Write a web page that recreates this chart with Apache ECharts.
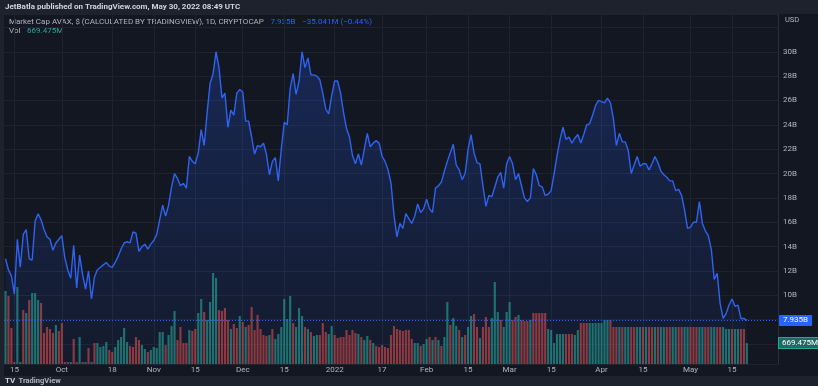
<!DOCTYPE html>
<html><head><meta charset="utf-8">
<script src="https://cdn.jsdelivr.net/npm/echarts@6/dist/echarts.min.js"></script>
<style>html,body{margin:0;padding:0;background:#131722;}#c{width:818px;height:386px;}</style>
</head><body><div id="c"></div>
<script>
// ---- categories (daily, Sep 12 2021 .. May 30 2022; last 10 days are right-side padding) ----
const startDate = [2021, 8, 12];
const totalDays = 261;

// ---- time-axis tick labels ----
const tickDates = ['2021-09-15','2021-10-01','2021-10-18','2021-11-01','2021-11-15','2021-12-01','2021-12-15','2022-01-01','2022-01-17','2022-02-01','2022-02-15','2022-03-01','2022-03-15','2022-04-01','2022-04-15','2022-05-01','2022-05-15'];
const tickTexts = ['15','Oct','18','Nov','15','Dec','15','2022','17','Feb','15','Mar','15','Apr','15','May','15'];

// ---- price-axis tick labels (billions USD) ----
const priceTicks = [10,12,14,16,18,20,22,24,26,28,30];

// ---- market cap, billions USD (daily) ----
const marketCap = [
13.0,12.1,11.6,10.1,14.6,12.3,15.0,15.4,13.0,12.9,
16.1,16.7,16.2,15.4,14.8,14.6,13.7,14.3,14.6,14.9,
13.1,12.1,11.4,14.1,10.6,13.3,11.7,10.5,12.0,9.7,
11.5,12.1,12.3,12.5,12.7,12.4,12.3,12.7,13.2,13.8,
14.3,14.4,14.3,15.2,15.1,13.6,14.0,14.2,13.8,14.2,
14.5,15.0,16.2,17.4,16.5,17.4,18.9,20.0,19.6,19.0,
19.2,18.8,21.4,21.0,20.8,21.7,23.6,22.3,25.0,27.4,
28.2,30.0,28.7,26.2,26.6,23.8,25.2,24.8,26.6,26.9,
26.7,24.3,24.3,23.0,21.6,22.3,22.2,22.5,21.6,19.9,
21.0,21.3,19.4,22.0,24.2,24.0,27.0,28.2,26.5,27.6,
30.0,28.7,29.5,28.1,28.1,28.0,27.7,26.6,25.3,24.9,
26.4,27.6,27.6,26.6,25.0,23.7,23.0,21.5,20.8,21.6,
20.7,22.0,23.3,22.2,22.5,22.7,22.5,21.4,21.0,20.3,
19.2,16.6,14.8,15.9,15.5,16.7,16.3,15.9,16.5,17.5,
16.8,17.1,17.9,17.1,16.8,18.8,19.0,19.3,20.2,21.0,
21.7,22.4,20.7,20.3,19.5,20.0,22.0,23.2,21.7,20.9,
20.8,19.0,17.3,18.2,18.1,18.9,19.7,20.1,18.8,20.8,
21.4,20.8,19.5,20.0,19.0,18.0,17.7,18.0,20.4,19.9,
19.0,18.9,18.2,18.3,18.6,20.0,21.5,22.8,23.8,22.8,
23.0,22.5,22.9,23.2,22.5,23.2,24.0,24.1,24.8,25.6,
26.0,25.9,25.8,26.2,25.8,24.5,22.3,23.3,22.6,22.6,
21.9,20.0,20.7,21.4,20.6,20.8,20.8,20.3,20.8,21.4,
20.9,20.2,19.9,19.7,19.4,19.4,18.6,18.7,18.2,17.0,
15.5,15.6,16.0,16.0,17.7,15.9,15.3,14.9,13.8,11.3,
11.8,9.3,8.1,8.5,9.2,9.7,9.1,9.2,8.1,8.1,7.94
];

// ---- volume, millions USD (daily) ----
const volume = [
2336,2176,1152,64,2464,64,1728,1632,2048,2272,
2272,2048,1952,992,1184,1120,992,1248,1056,1312,
64,64,64,800,64,864,64,64,512,64,
672,672,544,576,704,448,384,544,768,864,
1152,704,576,544,864,768,608,480,384,448,
544,512,1024,1024,608,928,1216,1696,768,1184,
672,672,1088,1056,1120,1632,2080,1664,1408,1984,
2912,2752,1728,1696,1792,1408,1120,1280,1152,1536,
1344,1184,1248,1824,1088,1568,1120,928,896,928,
1120,800,960,1184,2080,1440,2176,1312,1184,1792,
1536,1184,1120,1024,896,928,928,1312,1024,960,
1216,928,832,864,864,1088,928,1088,992,960,
864,768,896,768,672,576,544,608,544,512,
928,1216,1120,1088,1056,1088,1088,800,672,672,
576,640,800,864,768,864,768,576,864,1984,
1248,1472,1216,1088,864,928,1184,1536,1600,1184,
832,1184,1504,1184,1472,2624,1664,1408,1184,1664,
1984,1408,1504,1568,1408,1376,1376,1408,1632,1632,
1632,1632,1632,1120,1088,672,960,960,960,960,
960,960,928,1088,1312,1312,1312,1312,1312,1312,
1312,1312,1408,1408,1408,1184,1184,1184,1184,1184,
1184,1184,1184,1184,1184,1184,1184,1184,1184,1184,
1184,1184,1184,1184,1184,1184,1184,1184,1184,1184,
1184,1184,1184,1184,1184,1184,1184,1184,1184,1184,
1184,1184,1184,1120,1120,1120,1120,1120,1120,1120,669.475
];
// 1 = up bar (green), 0 = down bar (red)
const volumeUp = [
1,0,0,0,1,1,0,1,0,1,
1,1,0,0,0,0,0,1,0,0,
0,0,1,0,0,1,0,1,0,1,
0,1,1,1,1,0,0,1,1,1,
1,1,0,0,0,0,1,1,0,1,
1,1,1,1,0,1,1,1,0,0,
0,0,1,0,0,1,1,0,1,1,
1,1,0,0,0,0,1,0,0,1,
0,1,0,0,0,0,0,0,0,1,
0,1,1,1,1,1,1,0,1,1,
1,0,1,0,1,1,0,0,0,1,
1,0,0,0,0,0,0,0,0,1,
0,1,1,0,1,0,0,0,0,0,
0,0,0,0,0,0,0,0,1,1,
0,1,1,0,1,0,1,0,1,1,
0,1,1,0,1,0,1,1,0,0,
1,0,0,0,1,1,1,0,1,1,
1,0,0,1,0,0,0,1,0,0,
0,0,0,1,1,1,1,1,1,0,
0,0,1,1,0,0,0,1,1,1,
1,1,1,1,0,0,0,1,0,1,
1,0,0,1,1,0,1,0,0,1,
0,1,1,0,0,1,1,0,0,1,
1,0,0,0,1,1,0,0,1,1,
0,0,1,1,1,0,1,1,0,0,1
];

const headerText = 'JetBatla published on TradingView.com, May 30, 2022 08:49 UTC';
const legendName = 'Market Cap AVAX, $ (CALCULATED BY TRADINGVIEW), 1D, CRYPTOCAP';
const legendValue = '7.935B';
const legendChange = '\u221235.041M (\u22120.44%)';
const volLabel = '669.475M';

// ---- build ----
const dates = [];
const t0 = Date.UTC(startDate[0], startDate[1], startDate[2]);
for (let i = 0; i < totalDays; i++) dates.push(new Date(t0 + i * 86400000).toISOString().slice(0, 10));
const tickMap = {};
tickDates.forEach((d, i) => { tickMap[d] = tickTexts[i]; });
const isTick = (idx, val) => tickMap[val !== undefined ? val : dates[idx]] !== undefined;

const GREEN = 'rgba(38,166,154,0.62)';
const RED = 'rgba(239,83,80,0.55)';
const TXT = '#b2b5be';
const GRID = '#1f2330';
const FONT = 'Roboto, "Open Sans", sans-serif';
const lastPrice = marketCap[marketCap.length - 1];
const lastVol = volume[volume.length - 1];

const chart = echarts.init(document.getElementById('c'), null, { renderer: 'canvas' });
chart.setOption({
  backgroundColor: '#131722',
  animation: false,
  textStyle: { fontFamily: FONT },
  grid: { left: 4, right: 40, top: 14, bottom: 22 },
  xAxis: {
    type: 'category', data: dates, boundaryGap: true,
    axisLine: { show: false }, axisTick: { show: false },
    axisLabel: { interval: isTick, formatter: v => tickMap[v] || '', color: TXT, fontSize: 8, margin: 2, fontFamily: FONT },
    splitLine: { show: true, interval: isTick, alignWithLabel: true, lineStyle: { color: GRID, width: 1 } }
  },
  yAxis: [{
    type: 'value', position: 'right', min: 4.36, max: 33.1, splitNumber: 14, minInterval: 2, maxInterval: 2,
    axisLine: { show: true, lineStyle: { color: '#2a2e39' } }, axisTick: { show: false },
    axisLabel: {
      color: TXT, fontSize: 8, margin: 5, fontFamily: FONT,
      formatter: v => priceTicks.indexOf(Math.round(v * 1000) / 1000) >= 0 ? v + 'B' : ''
    },
    splitLine: { show: true, lineStyle: { color: GRID, width: 1 } }
  }, {
    type: 'value', min: 0, max: 11200, show: false, splitLine: { show: false }
  }],
  series: [{
    type: 'line', data: marketCap, yAxisIndex: 0, symbol: 'none', z: 2,
    lineStyle: { color: '#2f63f0', width: 1.4 },
    areaStyle: {
      origin: 'start',
      color: new echarts.graphic.LinearGradient(0, 0, 0, 1, [
        { offset: 0, color: 'rgba(41,98,255,0.32)' },
        { offset: 1, color: 'rgba(41,98,255,0.07)' }
      ])
    },
    markLine: {
      silent: true, symbol: 'none', animation: false,
      lineStyle: { type: [1, 2], color: '#2962ff', width: 1 },
      label: {
        show: true, position: 'end', distance: 1, formatter: legendValue,
        color: '#ffffff', backgroundColor: '#2962ff', padding: [2, 4, 1, 4], fontSize: 8, fontFamily: FONT, borderRadius: 1
      },
      data: [{ yAxis: lastPrice }]
    }
  }, {
    type: 'bar', yAxisIndex: 1, z: 3, barCategoryGap: '28%',
    data: volume.map((v, i) => ({ value: v, itemStyle: { color: volumeUp[i] ? GREEN : RED } })),
    markLine: {
      silent: true, symbol: 'none', animation: false,
      lineStyle: { color: 'rgba(0,0,0,0)', width: 0.5 },
      label: {
        show: true, position: 'end', distance: 1, formatter: volLabel,
        color: '#ffffff', backgroundColor: '#1e6b64', borderColor: '#26a69a', borderWidth: 1,
        padding: [1, 3, 1, 3], fontSize: 8, fontFamily: FONT
      },
      data: [{ yAxis: lastVol }]
    }
  }],
  graphic: [
    { type: 'rect', silent: true, z: -1, shape: { x: 0, y: 0, width: 818, height: 14 }, style: { fill: '#1e222d' } },
    { type: 'rect', silent: true, z: -1, shape: { x: 0, y: 376, width: 818, height: 10 }, style: { fill: '#1e222d' } },
    { type: 'rect', silent: true, z: -1, shape: { x: 0, y: 14, width: 4, height: 362 }, style: { fill: '#1e222d' } },
    { type: 'text', silent: true, x: 5, y: 7, style: { text: headerText, fill: '#d1d4dc', fontSize: 8, fontWeight: 'bold', fontFamily: FONT, verticalAlign: 'middle' } },
    { type: 'text', silent: true, x: 9, y: 22, style: {
      text: '{a|' + legendName + '}  {b|' + legendValue + '}  {b|' + legendChange + '}',
      verticalAlign: 'middle',
      rich: { a: { fill: TXT, fontSize: 8, fontFamily: FONT }, b: { fill: '#2962ff', fontSize: 8, fontFamily: FONT } }
    } },
    { type: 'text', silent: true, x: 9, y: 31, style: {
      text: '{a|Vol}  {b|' + volLabel + '}', verticalAlign: 'middle',
      rich: { a: { fill: TXT, fontSize: 8, fontFamily: FONT }, b: { fill: '#26a69a', fontSize: 8, fontFamily: FONT } }
    } },
    { type: 'text', silent: true, x: 785, y: 20, style: { text: 'USD', fill: TXT, fontSize: 7.5, fontFamily: FONT, verticalAlign: 'middle' } },
    { type: 'text', silent: true, x: 5, y: 381, style: {
      text: '{a|TV} {b|TradingView}', verticalAlign: 'middle',
      rich: { a: { fill: '#d1d4dc', fontSize: 8, fontWeight: 'bold', fontFamily: FONT }, b: { fill: '#b2b5be', fontSize: 7.5, fontWeight: 'bold', fontFamily: FONT } }
    } }
  ]
});
</script></body></html>
